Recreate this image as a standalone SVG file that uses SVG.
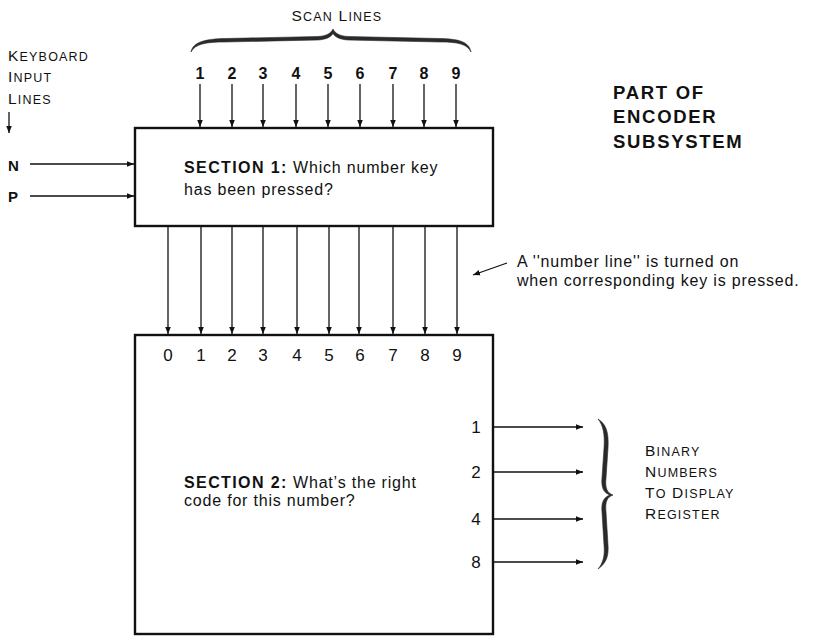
<svg xmlns="http://www.w3.org/2000/svg" width="814" height="640" viewBox="0 0 814 640">
  <defs>
    <marker id="arrow" viewBox="0 0 10 10" refX="10" refY="5" markerWidth="7" markerHeight="7" markerUnits="userSpaceOnUse" orient="auto">
      <path d="M0,1 L10,5 L0,9 z" fill="#111"/>
    </marker>
    <style>
      text { font-family: "Liberation Sans", Arial, sans-serif; fill: #111; }
      .box { fill: #fff; stroke: #111; stroke-width: 2.4; }
      .wire { stroke: #111; stroke-width: 1.3; fill: none; marker-end: url(#arrow); }
      .brace { fill: #2a2a2a; stroke: #2a2a2a; stroke-width: 0.6; stroke-linejoin: round; }
      .num { font-size: 16px; font-weight: bold; text-anchor: middle; }
      .digit { font-size: 17px; text-anchor: middle; }
      .body { font-size: 16px; letter-spacing: 0.8px; }
      .body tspan.b { font-weight: bold; letter-spacing: 1.4px; }
      .sc { font-size: 15.5px; letter-spacing: 1.2px; }
      .sc tspan.s { font-size: 12.5px; }
      .title { font-size: 18.5px; font-weight: bold; letter-spacing: 1.7px; }
      .in { font-size: 15px; font-weight: bold; }
    </style>
  </defs>

  <!-- labels around the encoder -->
  <g id="scan-lines-label">
    <text class="sc" x="337" y="21" text-anchor="middle">S<tspan class="s">CAN</tspan> L<tspan class="s">INES</tspan></text>
    <path class="brace" d="M191,52 C193,42 205,39 225,38.5 L318,36.5 C327,36 331,33 333,29 C335,33 339,36 348,36.5 L440,38.5 C460,39 469,42 471,52 C467,44 458,42 440,42 L348,40 C340,39.5 335,37 333,33.5 C331,37 326,39.5 318,40 L225,42 C206,42 195,44 191,52 Z"/>
  </g>

  <g id="keyboard-label">
    <text class="sc" x="8" y="61">K<tspan class="s">EYBOARD</tspan></text>
    <text class="sc" x="8" y="82">I<tspan class="s">NPUT</tspan></text>
    <text class="sc" x="8" y="104">L<tspan class="s">INES</tspan></text>
  </g>

  <g id="title">
    <text class="title" x="613" y="99">PART OF</text>
    <text class="title" x="613" y="123">ENCODER</text>
    <text class="title" x="613" y="148">SUBSYSTEM</text>
  </g>

  <!-- section 1 -->
  <g id="section1">
    <rect class="box" x="135" y="128" width="358" height="98"/>
    <text class="body" x="184" y="173"><tspan class="b">SECTION 1:</tspan> Which number key</text>
    <text class="body" x="184" y="195">has been pressed?</text>
  </g>

  <!-- section 2 -->
  <g id="section2">
    <rect class="box" x="135" y="335" width="358" height="299"/>
    <g class="digits">
      <text class="digit" x="168" y="361">0</text>
      <text class="digit" x="201" y="361">1</text>
      <text class="digit" x="232" y="361">2</text>
      <text class="digit" x="263" y="361">3</text>
      <text class="digit" x="297" y="361">4</text>
      <text class="digit" x="329" y="361">5</text>
      <text class="digit" x="360" y="361">6</text>
      <text class="digit" x="393" y="361">7</text>
      <text class="digit" x="425" y="361">8</text>
      <text class="digit" x="457" y="361">9</text>
    </g>
    <text class="digit" x="476" y="433">1</text>
    <text class="digit" x="476" y="478">2</text>
    <text class="digit" x="476" y="525">4</text>
    <text class="digit" x="476" y="568">8</text>
    <text class="body" x="184" y="488"><tspan class="b">SECTION 2:</tspan> What’s the right</text>
    <text class="body" x="184" y="506">code for this number?</text>
  </g>

  <!-- scan line numbers -->
  <g id="scan-numbers">
    <text class="num" x="200" y="79">1</text>
    <text class="num" x="232" y="79">2</text>
    <text class="num" x="263" y="79">3</text>
    <text class="num" x="296" y="79">4</text>
    <text class="num" x="328" y="79">5</text>
    <text class="num" x="360" y="79">6</text>
    <text class="num" x="393" y="79">7</text>
    <text class="num" x="424" y="79">8</text>
    <text class="num" x="456" y="79">9</text>
  </g>

  <g id="inputs">
    <text class="in" x="8" y="171">N</text>
    <text class="in" x="8" y="202">P</text>
  </g>

  <g id="note">
    <text class="body" x="517" y="267">A ''number line'' is turned on</text>
    <text class="body" x="517" y="286">when corresponding key is pressed.</text>
  </g>

  <g id="binary-label">
    <text class="sc" x="645" y="456">B<tspan class="s">INARY</tspan></text>
    <text class="sc" x="645" y="477">N<tspan class="s">UMBERS</tspan></text>
    <text class="sc" x="645" y="498">T<tspan class="s">O</tspan> D<tspan class="s">ISPLAY</tspan></text>
    <text class="sc" x="645" y="519">R<tspan class="s">EGISTER</tspan></text>
    <path class="brace" d="M598,419 C606,424 609,432 608,448 L606,478 C605,488 607,493 613,495 C607,497 605,502 606,512 L608,545 C609,558 605,564 598,569 C603,563 605,556 604,545 L602,512 C601,502 604,497 610,495 C604,493 601,488 602,478 L604,448 C605,434 603,425 598,419 Z"/>
  </g>

  <!-- connectors -->
  <g id="connectors">
    <line class="wire" x1="9" y1="112" x2="9" y2="133"/>
    <line class="wire" x1="30" y1="164" x2="134" y2="164"/>
    <line class="wire" x1="30" y1="196" x2="134" y2="196"/>

    <line class="wire" x1="200" y1="84" x2="200" y2="127"/>
    <line class="wire" x1="232" y1="84" x2="232" y2="127"/>
    <line class="wire" x1="263" y1="84" x2="263" y2="127"/>
    <line class="wire" x1="296" y1="84" x2="296" y2="127"/>
    <line class="wire" x1="328" y1="84" x2="328" y2="127"/>
    <line class="wire" x1="360" y1="84" x2="360" y2="127"/>
    <line class="wire" x1="393" y1="84" x2="393" y2="127"/>
    <line class="wire" x1="424" y1="84" x2="424" y2="127"/>
    <line class="wire" x1="456" y1="84" x2="456" y2="127"/>

    <line class="wire" x1="168" y1="227" x2="168" y2="334"/>
    <line class="wire" x1="201" y1="227" x2="201" y2="334"/>
    <line class="wire" x1="232" y1="227" x2="232" y2="334"/>
    <line class="wire" x1="263" y1="227" x2="263" y2="334"/>
    <line class="wire" x1="297" y1="227" x2="297" y2="334"/>
    <line class="wire" x1="329" y1="227" x2="329" y2="334"/>
    <line class="wire" x1="359" y1="227" x2="359" y2="334"/>
    <line class="wire" x1="393" y1="227" x2="393" y2="334"/>
    <line class="wire" x1="425" y1="227" x2="425" y2="334"/>
    <line class="wire" x1="457" y1="227" x2="457" y2="334"/>

    <line class="wire" x1="507" y1="263" x2="473" y2="275"/>

    <line class="wire" x1="494" y1="427" x2="583" y2="427"/>
    <line class="wire" x1="494" y1="472" x2="583" y2="472"/>
    <line class="wire" x1="494" y1="519" x2="583" y2="519"/>
    <line class="wire" x1="494" y1="562" x2="583" y2="562"/>
  </g>
</svg>
